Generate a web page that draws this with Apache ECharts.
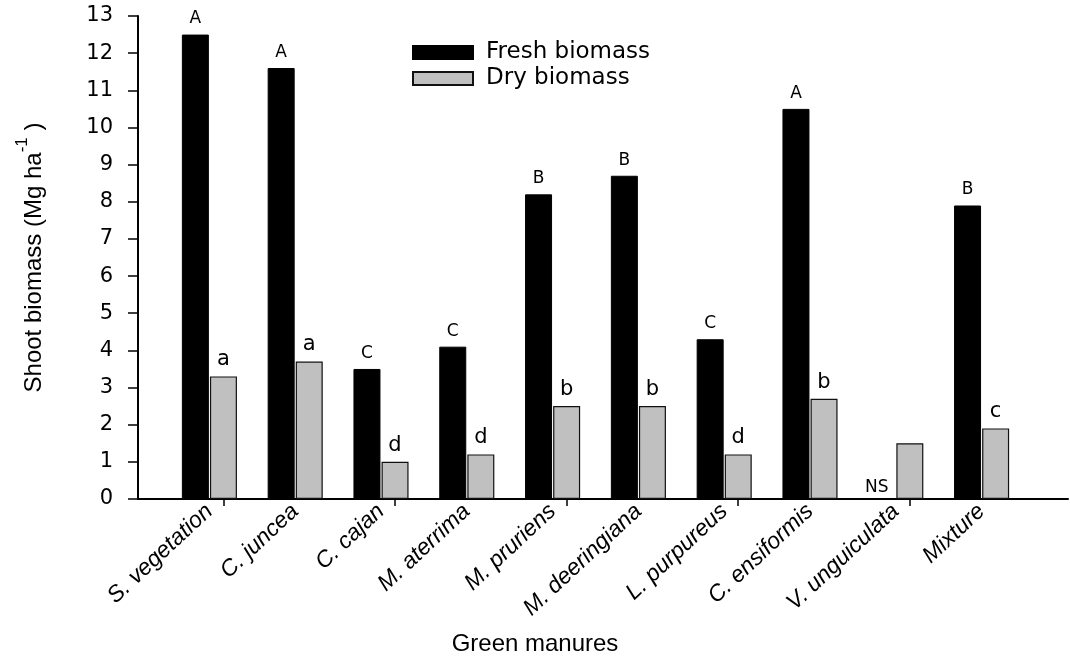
<!DOCTYPE html>
<html><head><meta charset="utf-8">
<script src="https://cdn.jsdelivr.net/npm/echarts@6/dist/echarts.min.js"></script>
<style>html,body{margin:0;padding:0;background:#fff}#c{width:1070px;height:659px}</style>
</head><body><div id="c"></div>
<script>
const categories = ['S. vegetation','C. juncea','C. cajan','M. aterrima','M. pruriens','M. deeringiana','L. purpureus','C. ensiformis','V. unguiculata','Mixture'];
const freshBiomass = [12.5, 11.6, 3.5, 4.1, 8.2, 8.7, 4.3, 10.5, 0, 7.9];
const dryBiomass = [3.3, 3.7, 1.0, 1.2, 2.5, 2.5, 1.2, 2.7, 1.5, 1.9];
const freshLetters = ['A','A','C','C','B','B','C','A','NS','B'];
const dryLetters = ['a','a','d','d','b','b','d','b','','c'];
const yMin = 0, yMax = 13, yStep = 1;

const chart = echarts.init(document.getElementById('c'), null, {renderer: 'canvas'});

function labelItems(values, letters) {
  return values.map((v, i) => {
    const t = letters[i];
    const upper = t !== '' && t === t.toUpperCase();
    const item = {value: v, label: {fontSize: upper ? 17 : 21}};
    if (t === 'NS') { item.label.offset = [-5, 5]; }
    return item;
  });
}

const TOP = 16, BOTTOM = 160;
const option = {
  animation: false,
  backgroundColor: '#fff',
  title: {
    text: 'Green manures', left: 'center', bottom: -2,
    textStyle: {fontFamily: 'Liberation Sans', fontSize: 24, fontWeight: 'normal', color: '#000'}
  },
  legend: {
    data: ['Fresh biomass', 'Dry biomass'],
    orient: 'vertical', left: 412, top: 41, padding: 0,
    icon: 'rect',
    itemWidth: 60, itemHeight: 13, itemGap: 3,
    textStyle: {fontFamily: 'DejaVu Sans', fontSize: 23, lineHeight: 22, color: '#000', padding: [0, 0, 0, 8]}
  },
  grid: [
    {left: 138, right: 2, top: TOP, bottom: BOTTOM},
    {left: 166.5, width: 858, top: TOP, bottom: BOTTOM},
    {left: 180.4, width: 858, top: TOP, bottom: BOTTOM}
  ],
  xAxis: [
    {gridIndex: 0, type: 'value', min: 0, max: 1,
     axisLine: {show: true, lineStyle: {color: '#000', width: 2}},
     axisTick: {show: false}, axisLabel: {show: false}, splitLine: {show: false}},
    {gridIndex: 1, type: 'category', data: categories,
     axisLine: {show: false}, axisTick: {show: false},
     axisLabel: {rotate: 43, margin: 9, interval: 0, fontFamily: 'Liberation Sans', fontStyle: 'italic', fontSize: 23, color: '#000'}},
    {gridIndex: 2, type: 'category', data: categories,
     axisLine: {show: false},
     axisTick: {show: true, alignWithLabel: true, length: 7, lineStyle: {color: '#000', width: 1.5}},
     axisLabel: {show: false}}
  ],
  yAxis: [
    {gridIndex: 0, type: 'value', min: yMin, max: yMax, interval: yStep,
     axisLine: {show: true, lineStyle: {color: '#000', width: 2}},
     axisTick: {show: true, length: 10, lineStyle: {color: '#000', width: 1.5}},
     axisLabel: {margin: 25, fontFamily: 'DejaVu Sans', fontSize: 21, color: '#000'},
     splitLine: {show: false},
     name: '{a|Shoot biomass (Mg ha}{s|-1}{a| )}',
     nameLocation: 'middle', nameRotate: 90, nameGap: 92,
     nameTextStyle: {
       rich: {
         a: {fontFamily: 'Liberation Sans', fontSize: 24, color: '#000', lineHeight: 32, verticalAlign: 'bottom'},
         s: {fontFamily: 'Liberation Sans', fontSize: 17, color: '#000', lineHeight: 17, verticalAlign: 'top'}
       }
     }},
    {gridIndex: 1, type: 'value', min: yMin, max: yMax, show: false},
    {gridIndex: 2, type: 'value', min: yMin, max: yMax, show: false}
  ],
  series: [
    {name: 'Fresh biomass', type: 'bar', xAxisIndex: 1, yAxisIndex: 1,
     barWidth: 27, barGap: '4%',
     itemStyle: {color: '#000', borderColor: '#000', borderWidth: 1},
     label: {show: true, position: 'top', distance: 7, color: '#000', fontFamily: 'DejaVu Sans',
             formatter: p => freshLetters[p.dataIndex]},
     data: labelItems(freshBiomass, freshLetters)},
    {name: 'Dry biomass', type: 'bar', xAxisIndex: 1, yAxisIndex: 1,
     barWidth: 27, barGap: '4%',
     itemStyle: {color: '#c0c0c0', borderColor: '#111', borderWidth: 1.2},
     label: {show: true, position: 'top', distance: 6, color: '#000', fontFamily: 'DejaVu Sans',
             formatter: p => dryLetters[p.dataIndex]},
     data: labelItems(dryBiomass, dryLetters)}
  ]
};
chart.setOption(option);
</script>
</body></html>
